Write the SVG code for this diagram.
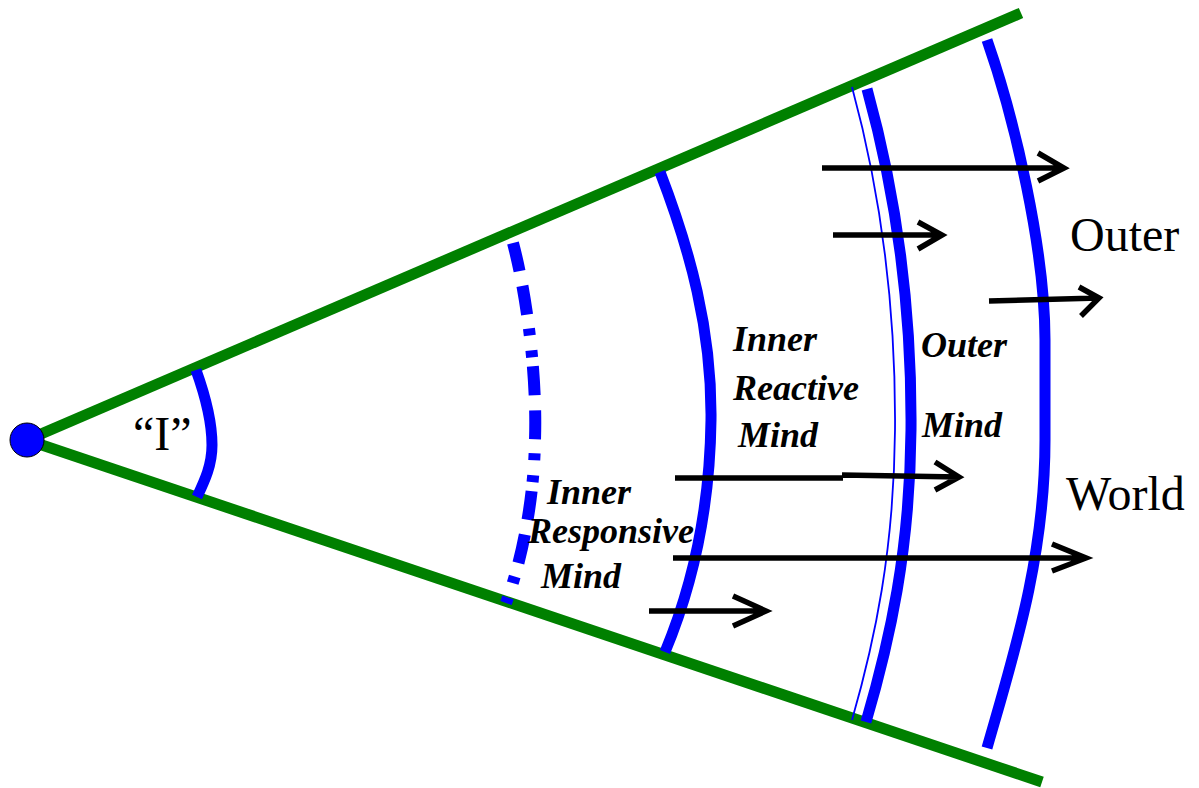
<svg xmlns="http://www.w3.org/2000/svg" width="1199" height="788" viewBox="0 0 1199 788">
<style>
.green{fill:none;stroke:#008000;stroke-width:11}
.blue{fill:none;stroke:#0000ff;stroke-width:11}
.thin{fill:none;stroke:#0000ff;stroke-width:1.8}
.arrow{fill:none;stroke:#000;stroke-width:5.5}
.lab{font-family:"Liberation Serif","Times New Roman",serif;font-weight:bold;font-style:italic;font-size:36px;fill:#000}
.big{font-family:"Liberation Serif","Times New Roman",serif;font-size:48px;fill:#000}
</style>
<rect width="1199" height="788" fill="#fff"/>
<g id="cone">
<line class="green" x1="27" y1="440" x2="1021" y2="13"/>
<line class="green" x1="27" y1="440" x2="1042" y2="782"/>
</g>
<g id="origin">
<circle cx="27" cy="440" r="17" fill="#0000ff" stroke="#000" stroke-width="1"/>
</g>
<g id="self">
<path class="blue" stroke-width="10" d="M196,370 C205,395 212,420 212,445 C212,465 205,480 197,497"/>
<text class="big" font-size="44" x="133" y="450">“I”</text>
</g>
<g id="inner-responsive">
<path fill="none" stroke="#0000ff" stroke-width="12" stroke-dasharray="29 15 29 14 7 15 7 9" d="M513,243 C528,300 537,380 535,440 C534,500 522,560 506,603"/>
<text class="lab" x="547" y="504">Inner</text>
<text class="lab" x="528" y="543">Responsive</text>
<text class="lab" x="541" y="588">Mind</text>
</g>
<g id="inner-reactive">
<path class="blue" d="M660,172 C690,250 712,330 711,420 C710,500 695,580 665,652"/>
<text class="lab" x="733" y="351">Inner</text>
<text class="lab" x="733" y="400">Reactive</text>
<text class="lab" x="738" y="447">Mind</text>
</g>
<g id="outer-mind">
<path class="thin" d="M852,87 C880,190 896,300 895,430 C894,550 875,640 852,720"/>
<path class="blue" d="M867,89 C895,190 912,300 911,430 C910,550 890,640 866,722"/>
<text class="lab" x="921" y="357">Outer</text>
<text class="lab" x="922" y="437">Mind</text>
</g>
<g id="outer-world">
<path class="blue" stroke-width="11.5" d="M987,40 C1015,120 1045,250 1045,340 L1045,440 C1045,560 1012,660 987,748"/>
<text class="big" x="1070" y="251">Outer</text>
<text class="big" x="1066" y="510">World</text>
</g>
<g id="connectors">
<path class="arrow" d="M822,168 H1064 M1038,153 L1064,168 L1038,181"/>
<path class="arrow" d="M833,235 H942 M918,222 L942,235 L918,249"/>
<path class="arrow" d="M989,301 L1099,298 M1079,287 L1099,298 L1081,316"/>
<path class="arrow" d="M675,478 H843 M842,475 L959,477 M935,462 L959,477 L935,490"/>
<path class="arrow" d="M673,558 H1086 M1052,544 L1086,558 L1052,571"/>
<path class="arrow" d="M649,611 H766 M733,596 L766,611 L733,626"/>
</g>
</svg>
